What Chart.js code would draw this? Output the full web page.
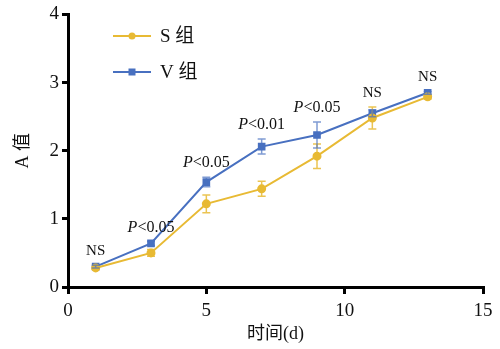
<!DOCTYPE html>
<html>
<head>
<meta charset="utf-8">
<script src="https://cdn.jsdelivr.net/npm/chart.js@4.4.0/dist/chart.umd.min.js"></script>
<style>
  html, body { margin: 0; padding: 0; background: #fff; }
  #wrap { width: 500px; height: 349px; }
</style>
</head>
<body>
<div id="wrap"><canvas id="myChart" width="500" height="349"></canvas></div>
<script>
// data
const days = [1, 3, 5, 7, 9, 11, 13];
const sMean = [0.28, 0.50, 1.22, 1.44, 1.92, 2.48, 2.79];
const sErr  = [0.02, 0.05, 0.13, 0.11, 0.18, 0.16, 0.03];
const vMean = [0.30, 0.64, 1.54, 2.06, 2.23, 2.55, 2.85];
const vErr  = [0.02, 0.03, 0.07, 0.11, 0.19, 0.05, 0.02];
const sigLabels = ['NS', 'P<0.05', 'P<0.05', 'P<0.01', 'P<0.05', 'NS', 'NS'];

const S_COLOR = 'rgb(232, 186, 52)';
const V_COLOR = 'rgb(72, 112, 192)';
const SERIF = '"Liberation Serif", "Noto Sans CJK SC", serif';

const toPoints = (ys) => days.map((d, i) => ({ x: d, y: ys[i] }));

// error bars
const errorBars = {
  id: 'errorBars',
  afterDatasetsDraw(chart) {
    const { ctx, scales: { x, y } } = chart;
    const sets = [[sMean, sErr, 'rgba(232, 186, 52, 0.85)'], [vMean, vErr, 'rgba(72, 112, 192, 0.7)']];
    ctx.save();
    ctx.lineWidth = 1.5;
    sets.forEach(([m, e, col]) => {
      ctx.strokeStyle = col;
      days.forEach((d, i) => {
        const px = x.getPixelForValue(d);
        const top = y.getPixelForValue(m[i] + e[i]);
        const bot = y.getPixelForValue(m[i] - e[i]);
        ctx.beginPath();
        ctx.moveTo(px, top); ctx.lineTo(px, bot);
        ctx.moveTo(px - 4, top); ctx.lineTo(px + 4, top);
        ctx.moveTo(px - 4, bot); ctx.lineTo(px + 4, bot);
        ctx.stroke();
      });
    });
    ctx.restore();
  }
};

// significance labels above each time point
const sigText = {
  id: 'sigText',
  afterDatasetsDraw(chart) {
    const { ctx, scales: { x, y } } = chart;
    ctx.save();
    ctx.fillStyle = '#111';
    ctx.textBaseline = 'middle';
    days.forEach((d, i) => {
      const topVal = Math.max(sMean[i] + sErr[i], vMean[i] + vErr[i]);
      const px = x.getPixelForValue(d);
      const py = y.getPixelForValue(topVal) - 14;
      const lab = sigLabels[i];
      if (lab.startsWith('P')) {
        const rest = lab.slice(1);
        ctx.font = 'italic 16px ' + SERIF;
        const w1 = ctx.measureText('P').width;
        ctx.font = '16px ' + SERIF;
        const w2 = ctx.measureText(rest).width;
        let sx = px - (w1 + w2) / 2;
        ctx.textAlign = 'left';
        ctx.font = 'italic 16px ' + SERIF;
        ctx.fillText('P', sx, py);
        ctx.font = '16px ' + SERIF;
        ctx.fillText(rest, sx + w1, py);
      } else {
        ctx.textAlign = 'center';
        ctx.font = '15px ' + SERIF;
        ctx.fillText(lab, px, py);
      }
    });
    ctx.restore();
  }
};

// legend in the upper-left of the plot
const innerLegend = {
  id: 'innerLegend',
  afterDraw(chart) {
    const { ctx } = chart;
    const rows = [['S 组', S_COLOR, 'circle', 36], ['V 组', V_COLOR, 'rect', 72]];
    ctx.save();
    rows.forEach(([txt, col, shape, yy]) => {
      ctx.strokeStyle = col;
      ctx.fillStyle = col;
      ctx.lineWidth = 2;
      ctx.beginPath();
      ctx.moveTo(113, yy); ctx.lineTo(151, yy);
      ctx.stroke();
      if (shape === 'circle') {
        ctx.beginPath(); ctx.arc(132, yy, 3.5, 0, Math.PI * 2); ctx.fill();
      } else {
        ctx.fillRect(128.5, yy - 3.5, 7, 7);
      }
      ctx.fillStyle = '#111';
      ctx.font = '19px ' + SERIF;
      ctx.textAlign = 'left';
      ctx.textBaseline = 'middle';
      ctx.fillText(txt, 160, yy + 1);
    });
    ctx.restore();
  }
};

const data = {
  datasets: [
    {
      label: 'S 组',
      data: toPoints(sMean),
      borderColor: S_COLOR,
      backgroundColor: S_COLOR,
      borderWidth: 2,
      pointStyle: 'circle',
      pointRadius: 3.5,
    },
    {
      label: 'V 组',
      data: toPoints(vMean),
      borderColor: V_COLOR,
      backgroundColor: V_COLOR,
      borderWidth: 2,
      pointStyle: 'rect',
      pointRadius: 4,
    },
  ]
};

const config = {
  type: 'line',
  data,
  options: {
    responsive: false,
    animation: false,
    layout: { padding: { top: 10, right: 17, left: 0, bottom: 0 } },
    scales: {
      x: {
        type: 'linear',
        min: 0, max: 15,
        ticks: { stepSize: 5, color: '#111', font: { family: SERIF, size: 19 }, padding: 6 },
        grid: { drawOnChartArea: false, drawTicks: true, tickLength: 7, color: '#000', lineWidth: 3 },
        border: { color: '#000', width: 3 },
        title: { display: true, text: '时间(d)', color: '#111', font: { family: SERIF, size: 18 }, padding: { top: 0 } },
        afterFit(scale) { scale.height = 62; }
      },
      y: {
        min: 0, max: 4,
        ticks: { stepSize: 1, color: '#111', font: { family: SERIF, size: 19 }, padding: 3 },
        grid: { drawOnChartArea: false, drawTicks: true, tickLength: 6, color: '#000', lineWidth: 3 },
        border: { color: '#000', width: 3 },
        title: { display: true, text: 'A 值', color: '#111', font: { family: SERIF, size: 18 }, padding: { top: 12, bottom: 0 } },
        afterFit(scale) { scale.width = 68; }
      }
    },
    plugins: {
      legend: { display: false },
      tooltip: { enabled: false }
    }
  },
  plugins: [errorBars, sigText, innerLegend]
};

const myChart = new Chart(document.getElementById('myChart'), config);
</script>
</body>
</html>
